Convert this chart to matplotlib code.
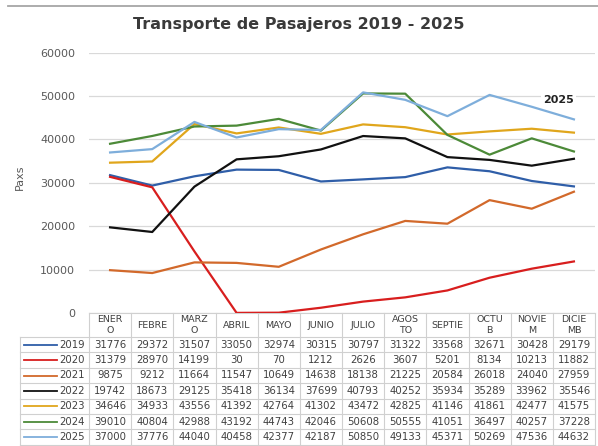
import matplotlib
matplotlib.use("Agg")
import matplotlib.pyplot as plt

meses = ["ENER\nO", "FEBRE", "MARZ\nO", "ABRIL", "MAYO", "JUNIO", "JULIO",
         "AGOS\nTO", "SEPTIE", "OCTU\nB", "NOVIE\nM", "DICIE\nMB"]

anios = ["2019", "2020", "2021", "2022", "2023", "2024", "2025"]

pax_2019 = [31776, 29372, 31507, 33050, 32974, 30315, 30797, 31322, 33568, 32671, 30428, 29179]
pax_2020 = [31379, 28970, 14199, 30, 70, 1212, 2626, 3607, 5201, 8134, 10213, 11882]
pax_2021 = [9875, 9212, 11664, 11547, 10649, 14638, 18138, 21225, 20584, 26018, 24040, 27959]
pax_2022 = [19742, 18673, 29125, 35418, 36134, 37699, 40793, 40252, 35934, 35289, 33962, 35546]
pax_2023 = [34646, 34933, 43556, 41392, 42764, 41302, 43472, 42825, 41146, 41861, 42477, 41575]
pax_2024 = [39010, 40804, 42988, 43192, 44743, 42046, 50608, 50555, 41051, 36497, 40257, 37228]
pax_2025 = [37000, 37776, 44040, 40458, 42377, 42187, 50850, 49133, 45371, 50269, 47536, 44632]

series = [pax_2019, pax_2020, pax_2021, pax_2022, pax_2023, pax_2024, pax_2025]
colores = ["#2f5ea8", "#d81e1e", "#d2692b", "#111111", "#e0a61c", "#4c8a38", "#7eaedb"]

W, H = 598, 446
fig = plt.figure(figsize=(W / 100, H / 100), dpi=100)
# area del grafico en pixeles
x0, x1, y_top, y_bot = 89, 595, 52.7, 313
ancho_ax = x1 - x0
alto_ax = y_bot - y_top
ax = fig.add_axes([x0 / W, 1 - y_bot / H, ancho_ax / W, alto_ax / H])

x = list(range(len(meses)))
for anio, valores, color in zip(anios, series, colores):
    ax.plot(x, valores, color=color, lw=1.6, label=anio, zorder=3)

ax.set_xlim(-0.5, 11.5)
ax.set_ylim(0, 60000)
ax.set_yticks(range(0, 60001, 10000))
ax.tick_params(axis="y", length=0, labelsize=8, labelcolor="#595959", pad=10)
ax.set_xticks([])
ax.grid(axis="y", color="#d9d9d9", lw=0.9)
ax.set_axisbelow(True)
for s in ax.spines.values():
    s.set_visible(False)

ax.set_ylabel("Paxs", fontsize=8, color="#595959")
ax.yaxis.set_label_coords((25 - x0) / ancho_ax, 0.52)

ax.text(11, 49000, "2025", ha="right", va="center", fontsize=8, fontweight="bold",
        color="#222222", bbox=dict(facecolor="white", edgecolor="none", pad=1.5), zorder=2)

fig.text(0.5, 1 - 25 / H, "Transporte de Pasajeros 2019 - 2025", ha="center", va="center",
         fontsize=11.5, fontweight="bold", color="#3a3a3a")

fig.add_artist(plt.Line2D([8 / W, 1], [1 - 6 / H, 1 - 6 / H], color="#a6a6a6", lw=1.3))


# tabla de datos (pixeles -> fraccion de ejes)
def fx(px):
    return (px - x0) / ancho_ax


def fy(py):
    return (y_bot - py) / alto_ax


tab_izq = 20
ancho_col = ancho_ax / len(meses)
h_enc, h_fila = 24, 15.4
y_filas = y_bot + h_enc
y_fin = y_filas + h_fila * len(anios)
gris = "#d0d0d0"
kw = dict(transform=ax.transAxes, clip_on=False)


def linea(xs, ys, **extra):
    ax.plot([fx(v) for v in xs], [fy(v) for v in ys], color=gris, lw=0.8, **kw, **extra)


linea([x0, x1], [y_bot, y_bot])
for i in range(len(anios) + 1):
    yy = y_filas + h_fila * i
    linea([tab_izq, x1], [yy, yy])
linea([tab_izq, tab_izq], [y_filas, y_fin])
for j in range(len(meses) + 1):
    xx = x0 + ancho_col * j
    linea([xx, xx], [y_bot, y_fin])

for j, mes in enumerate(meses):
    ax.text(fx(x0 + ancho_col * (j + 0.5)), fy(y_bot + h_enc / 2), mes, ha="center", va="center",
            fontsize=6.8, color="#404040", linespacing=1.15, **kw)

for i, (anio, valores, color) in enumerate(zip(anios, series, colores)):
    yc = y_filas + h_fila * (i + 0.5)
    ax.plot([fx(24), fx(57)], [fy(yc), fy(yc)], color=color, lw=1.3, **kw)
    ax.text(fx(85), fy(yc), anio, ha="right", va="center", fontsize=7.3, color="#404040", **kw)
    for j, v in enumerate(valores):
        ax.text(fx(x0 + ancho_col * (j + 0.5)), fy(yc), str(v), ha="center", va="center",
                fontsize=7.3, color="#404040", **kw)

fig.savefig("out.png", dpi=100)
